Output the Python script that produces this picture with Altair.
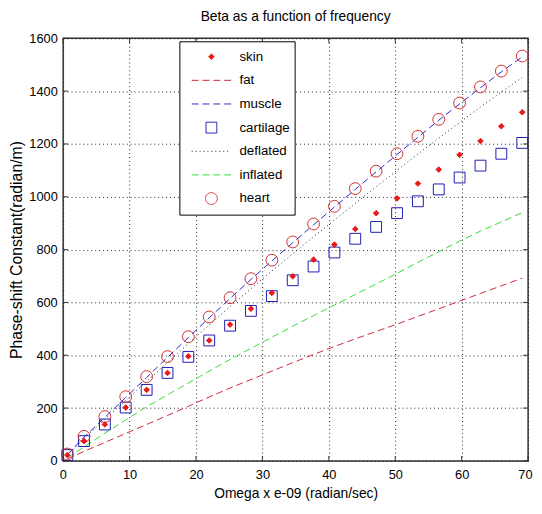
import altair as alt
import pandas as pd

# ---------------- data ----------------
omega = [0.63, 3.14, 6.28, 9.42, 12.57, 15.71, 18.85, 21.99, 25.13, 28.27, 31.42, 34.56,
         37.70, 40.84, 43.98, 47.12, 50.27, 53.41, 56.55, 59.69, 62.83, 65.97, 69.12]

skin = [22, 75, 138, 202, 269, 333, 396, 456, 516, 576, 636, 699,
        762, 819, 878, 938, 994, 1050, 1103, 1159, 1211, 1267, 1320]
fat = [8, 36, 70, 104, 138, 172, 207, 242, 276, 308, 340, 372,
       403, 433, 462, 490, 518, 547, 576, 605, 634, 663, 692]
muscle = [24, 90, 165, 240, 316, 392, 467, 542, 615, 687, 757, 826,
          894, 961, 1028, 1094, 1160, 1225, 1290, 1352, 1413, 1473, 1530]
cartilage = [22, 75, 138, 202, 269, 333, 394, 456, 512, 568, 624, 684,
             736, 789, 841, 886, 938, 983, 1028, 1073, 1118, 1163, 1204]
deflated = [22, 85, 157, 229, 301, 373, 444, 515, 584, 652, 719, 784,
            849, 912, 975, 1038, 1100, 1162, 1222, 1281, 1340, 1397, 1452]
inflated = [12, 53, 105, 155, 205, 250, 295, 340, 384, 426, 468, 510,
            550, 590, 630, 670, 710, 752, 792, 832, 870, 905, 940]
heart = [26, 93, 168, 243, 319, 395, 470, 545, 618, 690, 760, 829,
         897, 964, 1031, 1097, 1163, 1229, 1293, 1355, 1416, 1476, 1533]

series_order = ["skin", "fat", "muscle", "cartilage", "deflated", "inflated", "heart"]
line_series = ["fat", "muscle", "deflated", "inflated"]
point_series = ["cartilage", "heart", "skin"]

x_ticks = [0, 10, 20, 30, 40, 50, 60, 70]
y_ticks = [0, 200, 400, 600, 800, 1000, 1200, 1400, 1600]

# ---------------- styles ----------------
stroke_colors = ["#e81818", "#d0283c", "#2a2ad0", "#1c1cb4", "#222222", "#33dd33", "#d03030"]
fill_colors = ["#e81818", "transparent", "transparent", "transparent",
               "transparent", "transparent", "transparent"]
shapes = ["diamond", "stroke", "stroke", "square", "stroke", "stroke", "circle"]
sizes = [32, 1600, 1600, 121, 1600, 1600, 144]
dashes = [[1, 0], [7, 4], [7, 4], [1, 0], [1, 3], [7, 4], [1, 0]]

values = {"skin": skin, "fat": fat, "muscle": muscle, "cartilage": cartilage,
          "deflated": deflated, "inflated": inflated, "heart": heart}
rows = []
for s in series_order:
    for o, v in zip(omega, values[s]):
        rows.append({"omega": o, "beta": v, "series": s})
df = pd.DataFrame(rows)
df_lines = df[df.series.isin(line_series)]
df_points = pd.concat([df[df.series == s] for s in point_series])

W, H = 472, 429
FONT = "Liberation Sans, Arial, sans-serif"

xscale = alt.Scale(domain=[0, 70], nice=False, zero=False)
yscale = alt.Scale(domain=[0, 1600], nice=False, zero=False)

leg = alt.Legend(title=None, orient="none", legendX=118, legendY=3, direction="vertical",
                 clipHeight=23.3, rowPadding=0, padding=4, symbolOffset=8, labelOffset=8,
                 labelFontSize=13.5, labelFont="Liberation Sans", labelColor="black",
                 strokeColor="black", fillColor="white", symbolStrokeWidth=1)

stroke_enc = alt.Stroke("series:N", scale=alt.Scale(type="ordinal", domain=series_order, range=stroke_colors), legend=leg)

x_axis = alt.Axis(values=x_ticks, title="Omega x e-09 (radian/sec)", labelPadding=8,
                  titleFontSize=14, titleY=37, titleBaseline="alphabetic", format="d",
                  labelFlush=True, labelFlushOffset=4)
y_axis = alt.Axis(values=y_ticks, title="Phase-shift Constant(radian/m)", labelPadding=6,
                  titlePadding=4, titleFontSize=16, format="d", labelFlush=False)

x_enc = alt.X("omega:Q", scale=xscale, axis=x_axis)
y_enc = alt.Y("beta:Q", scale=yscale, axis=y_axis)

lines = alt.Chart(df_lines).mark_line(strokeWidth=1).encode(
    x=x_enc, y=y_enc, stroke=stroke_enc,
    strokeDash=alt.StrokeDash("series:N", scale=alt.Scale(type="ordinal", domain=series_order, range=dashes), legend=leg),
    order=alt.Order("omega:Q"),
)

points = alt.Chart(df_points).mark_point(filled=True, strokeWidth=1, opacity=1).encode(
    x=x_enc, y=y_enc, stroke=stroke_enc,
    fill=alt.Fill("series:N", scale=alt.Scale(type="ordinal", domain=series_order, range=fill_colors), legend=leg),
    shape=alt.Shape("series:N", scale=alt.Scale(type="ordinal", domain=series_order, range=shapes), legend=leg),
    size=alt.Size("series:N", scale=alt.Scale(type="ordinal", domain=series_order, range=sizes), legend=leg),
)

xt = pd.DataFrame({"t": x_ticks})
yt = pd.DataFrame({"t": y_ticks})
tick_color = "#333333"
xb = alt.Chart(xt).mark_rule(color=tick_color).encode(
    x=alt.X("t:Q", scale=xscale, axis=x_axis), y=alt.value(H), y2=alt.value(H - 5))
xtop = alt.Chart(xt).mark_rule(color=tick_color).encode(
    x=alt.X("t:Q", scale=xscale, axis=x_axis), y=alt.value(0), y2=alt.value(5))
yl = alt.Chart(yt).mark_rule(color=tick_color).encode(
    y=alt.Y("t:Q", scale=yscale, axis=y_axis), x=alt.value(0), x2=alt.value(5))
yr = alt.Chart(yt).mark_rule(color=tick_color).encode(
    y=alt.Y("t:Q", scale=yscale, axis=y_axis), x=alt.value(W - 5), x2=alt.value(W))

chart = alt.layer(lines, points, xb, xtop, yl, yr).properties(
    width=W, height=H,
    title=alt.TitleParams("Beta as a function of frequency", fontSize=14, font=FONT,
                          fontWeight="normal", color="black", anchor="middle", offset=9),
    autosize=alt.AutoSizeParams(type="none"),
    padding={"left": 56, "top": 27, "right": 6, "bottom": 42},
).configure_view(
    stroke="#333333", strokeWidth=1.5
).configure_axis(
    labelFont=FONT, labelFontSize=13, labelColor="black",
    titleFont=FONT, titleFontSize=13, titleFontWeight="normal", titleColor="black",
    grid=True, gridColor="#222222", gridDash=[1, 3], gridOpacity=1, gridWidth=1,
    ticks=False, domain=False,
)

chart.save("out.html", embed_options={"renderer": "svg", "actions": False})
